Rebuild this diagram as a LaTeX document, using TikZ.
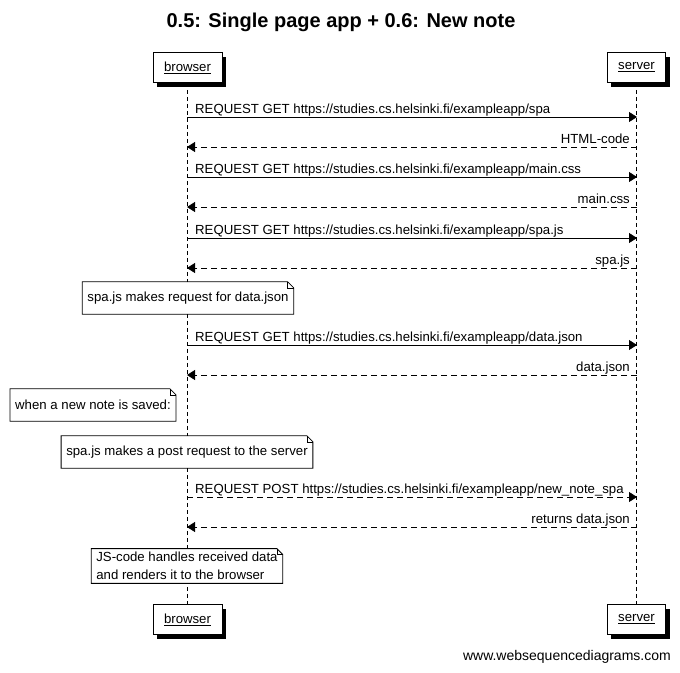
\documentclass[tikz,border=0pt]{standalone}
\usepackage{fontspec}
\setmainfont{Liberation Sans}
\usetikzlibrary{arrows.meta,shadows}
\def\dogear#1{\draw[line width=0.8pt] (#1.south west) -- (#1.north west) -- ([xshift=-6pt]#1.north east) -- ([yshift=-6pt]#1.north east) -- (#1.south east) -- cycle;
	\draw[line width=0.6pt] ([xshift=-6pt]#1.north east) |- ([yshift=-6pt]#1.north east);}

\begin{document}
\begin{tikzpicture}[x=1pt, y=-1pt,
		every node/.style={font=\fontsize{13.2}{18}\selectfont},
		part/.style={draw, fill=white, line width=0.8pt, inner xsep=11pt, minimum height=30pt,
			drop shadow={shadow xshift=4pt, shadow yshift=-4pt, fill=black, opacity=1}},
		lifeline/.style={line width=0.8pt, dash pattern=on 4pt off 3pt},
		req/.style={line width=0.8pt, -{Triangle[length=8pt, width=10pt]}},
		resp/.style={req, dash pattern=on 6pt off 4pt},
		note/.style={fill=white, inner xsep=5pt, minimum height=32pt},
		sent/.style={anchor=base west, inner sep=0pt},
		back/.style={anchor=base east, inner sep=0pt}]
			%%%%% START %%%%%
			\useasboundingbox (0,0) rectangle (680,672);
			
			\node[font=\bfseries\fontsize{20}{22}\selectfont] (title) at (341,22) {0.5: Single page app + 0.6: New note};
			
			\node[part] (browserTop) at (187.5,67.5) {\underline{browser}};
			\node[part] (serverTop) at (636.5,67.5) {\underline{server}};
			\node[part] (browserBot) at (187.5,619.5) {\underline{browser}};
			\node[part] (serverBot) at (636.5,619.5) {\underline{server}};
			
			\draw[lifeline] (browserTop.south) -- (browserBot.north);
			\draw[lifeline] (serverTop.south) -- (serverBot.north);
			
			% page and scripts
			\coordinate (b1) at (187,117); \coordinate (s1) at (637,117);
			\draw[req] (b1) -- (s1);
			\node[sent] (l1) at (195,113) {REQUEST GET https://studies.cs.helsinki.fi/exampleapp/spa};
			
			\coordinate (b2) at (187,147); \coordinate (s2) at (637,147);
			\draw[resp] (s2) -- (b2);
			\node[back] (l2) at (630,143) {HTML-code};
			
			\coordinate (b3) at (187,177); \coordinate (s3) at (637,177);
			\draw[req] (b3) -- (s3);
			\node[sent] (l3) at (195,173) {REQUEST GET https://studies.cs.helsinki.fi/exampleapp/main.css};
			
			\coordinate (b4) at (187,207); \coordinate (s4) at (637,207);
			\draw[resp] (s4) -- (b4);
			\node[back] (l4) at (630,203) {main.css};
			
			\coordinate (b5) at (187,238); \coordinate (s5) at (637,238);
			\draw[req] (b5) -- (s5);
			\node[sent] (l5) at (195,234) {REQUEST GET https://studies.cs.helsinki.fi/exampleapp/spa.js};
			
			\coordinate (b6) at (187,268); \coordinate (s6) at (637,268);
			\draw[resp] (s6) -- (b6);
			\node[back] (l6) at (630,264) {spa.js};
			
			\node[note] (n1) at (188,298) {spa.js makes request for data.json};
			\dogear{n1}
			
			% data
			\coordinate (b7) at (187,345); \coordinate (s7) at (637,345);
			\draw[req] (b7) -- (s7);
			\node[sent] (l7) at (195,341) {REQUEST GET https://studies.cs.helsinki.fi/exampleapp/data.json};
			
			\coordinate (b8) at (187,375); \coordinate (s8) at (637,375);
			\draw[resp] (s8) -- (b8);
			\node[back] (l8) at (630,371) {data.json};
			
			\node[note] (n2) at (93,405) {when a new note is saved:};
			\dogear{n2}
			
			\node[note] (n3) at (187,452) {spa.js makes a post request to the server};
			\dogear{n3}
			
			% new note
			\coordinate (b9) at (187,497); \coordinate (s9) at (637,497);
			\draw[resp] (b9) -- (s9);
			\node[sent] (l9) at (195,493) {REQUEST POST https://studies.cs.helsinki.fi/exampleapp/new\_note\_spa};
			
			\coordinate (b10) at (187,527); \coordinate (s10) at (637,527);
			\draw[resp] (s10) -- (b10);
			\node[back] (l10) at (630,523) {returns data.json};
			
			\node[note, align=left] (n4) at (187,566) {JS-code handles received data\\and renders it to the browser};
			\dogear{n4}
			
			\node[anchor=base east, inner sep=0pt, font=\fontsize{14}{16}\selectfont] (footer) at (671,660) {www.websequencediagrams.com};
			%%%%% END %%%%%
\end{tikzpicture}
\end{document}
